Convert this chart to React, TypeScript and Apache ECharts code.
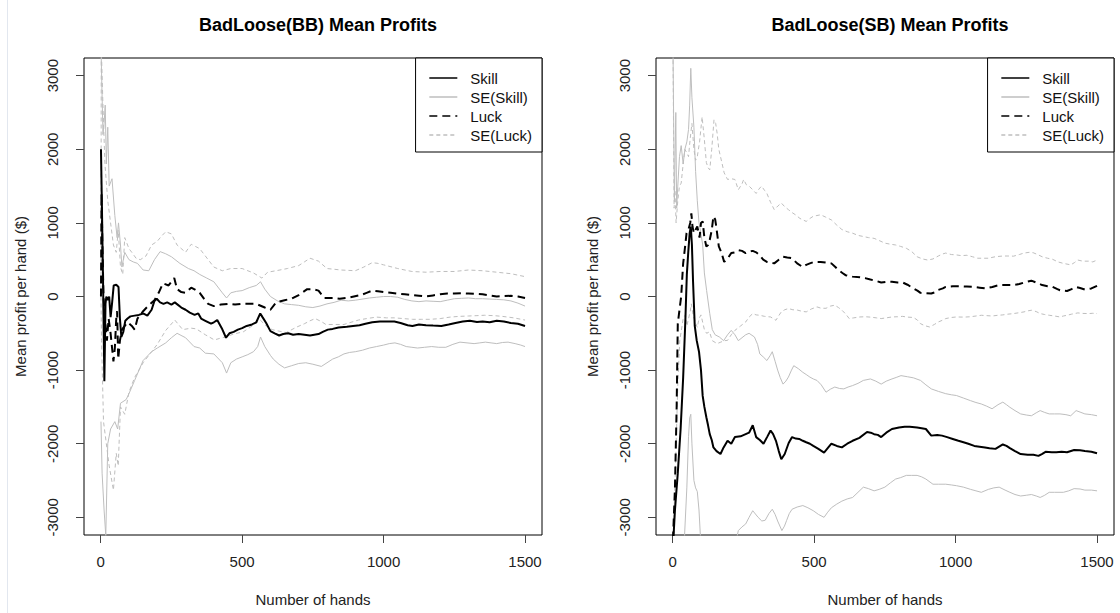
import React, { useEffect, useRef } from "react";
import * as echarts from "echarts";

const FONT = '"Liberation Sans", Arial, Helvetica, sans-serif';

const legendNames = ["Skill", "SE(Skill)", "Luck", "SE(Luck)"];
const titles = ["BadLoose(BB) Mean Profits", "BadLoose(SB) Mean Profits"];
const xTicks = [0, 500, 1000, 1500];
const yTicks = [-3000, -2000, -1000, 0, 1000, 2000, 3000];
const xLabel = "Number of hands";
const yLabel = "Mean profit per hand ($)";

// ---- BB panel: [hand, mean profit] ----
const bbSkill = [[1,2000],[4,1300],[8,300],[13,-1150],[17,-100],[20,0],[25,-50],[30,0],[35,-280],[40,-100],[46,150],[55,160],[63,130],[68,-300],[73,-550],[80,-480],[87,-330],[95,-300],[105,-270],[120,-260],[135,-250],[150,-230],[165,-260],[180,-180],[190,-60],[198,-30],[210,-80],[222,-100],[235,-80],[250,-110],[262,-80],[272,-110],[285,-150],[300,-180],[315,-220],[332,-250],[345,-230],[355,-300],[370,-330],[390,-370],[400,-350],[412,-320],[428,-430],[443,-560],[455,-500],[470,-480],[485,-450],[500,-430],[516,-400],[535,-380],[550,-350],[564,-230],[572,-280],[585,-360],[600,-470],[615,-500],[631,-530],[645,-510],[663,-500],[680,-520],[700,-510],[720,-520],[740,-530],[755,-520],[770,-510],[785,-480],[803,-450],[820,-440],[841,-420],[870,-410],[892,-400],[915,-390],[936,-370],[960,-350],[987,-340],[1010,-340],[1038,-340],[1060,-360],[1085,-390],[1102,-400],[1125,-380],[1150,-390],[1175,-395],[1204,-400],[1230,-380],[1254,-360],[1280,-340],[1305,-330],[1330,-345],[1350,-340],[1375,-350],[1400,-330],[1425,-340],[1450,-360],[1475,-370],[1500,-400]];
const bbLuck = [[1,0],[3,1400],[6,700],[10,0],[15,-300],[22,-600],[28,-300],[35,-500],[45,-880],[50,-700],[55,-300],[58,-200],[62,-850],[68,-600],[75,-450],[85,-400],[95,-350],[110,-400],[120,-450],[130,-300],[150,-200],[170,-120],[190,-50],[205,50],[220,180],[240,150],[260,250],[270,100],[285,60],[300,50],[320,120],[335,90],[350,50],[365,-30],[380,-100],[400,-130],[425,-110],[450,-100],[475,-110],[500,-100],[525,-100],[550,-100],[580,-150],[600,-180],[620,-80],[650,-50],[675,-30],[700,20],[715,60],[730,100],[750,100],[770,80],[790,-20],[820,-20],[845,-30],[870,-20],[895,0],[920,20],[940,50],[960,80],[980,70],[1000,60],[1025,50],[1050,40],[1075,30],[1100,20],[1125,10],[1150,0],[1175,15],[1200,30],[1225,40],[1250,40],[1275,45],[1300,40],[1325,35],[1350,30],[1375,15],[1400,0],[1425,5],[1450,10],[1475,0],[1500,-20]];
const bbSkillSeUpper = [[1,3400],[3,3400],[8,2200],[12,2350],[16,2600],[20,1800],[25,2300],[30,1500],[40,1600],[50,1100],[58,800],[63,1000],[70,700],[75,400],[85,600],[100,500],[115,470],[130,450],[150,360],[170,350],[190,500],[210,610],[230,580],[250,540],[280,450],[310,380],[330,350],[350,300],[375,250],[400,200],[430,50],[445,-20],[460,50],[480,70],[500,80],[525,120],[550,150],[565,200],[580,100],[600,0],[625,-60],[650,-100],[675,-110],[700,-120],[725,-140],[750,-150],[775,-130],[800,-100],[825,-80],[850,-50],[875,-60],[900,-50],[950,-20],[975,-10],[1000,0],[1025,0],[1050,-10],[1075,-40],[1100,-60],[1125,-70],[1150,-60],[1175,-65],[1200,-70],[1225,-50],[1250,-30],[1275,-25],[1300,-20],[1325,-30],[1350,-30],[1375,-35],[1400,-40],[1425,-45],[1450,-60],[1475,-90],[1500,-130]];
const bbSkillSeLower = [[1,-1700],[5,-2400],[12,-2900],[18,-3250],[25,-2000],[35,-1800],[50,-1700],[60,-1800],[70,-1450],[90,-1400],[100,-1320],[120,-1140],[150,-870],[180,-750],[200,-700],[230,-630],[250,-560],[270,-500],[300,-560],[330,-680],[350,-700],[370,-770],[400,-780],[430,-900],[445,-1040],[460,-900],[480,-850],[500,-820],[520,-790],[540,-750],[555,-680],[565,-550],[580,-680],[600,-800],[610,-850],[630,-920],[650,-970],[675,-940],[700,-910],[725,-900],[750,-920],[780,-950],[800,-900],[820,-850],[840,-820],[860,-780],[880,-760],[900,-750],[925,-730],[950,-700],[975,-680],[1000,-660],[1020,-640],[1040,-630],[1060,-650],[1080,-680],[1100,-690],[1120,-700],[1145,-690],[1170,-680],[1195,-690],[1220,-690],[1245,-650],[1270,-620],[1295,-630],[1320,-640],[1340,-630],[1360,-620],[1380,-630],[1400,-640],[1420,-625],[1440,-620],[1465,-640],[1485,-660],[1500,-680]];
const bbLuckSeUpper = [[1,0],[2,3400],[8,2600],[15,1800],[25,1300],[35,1000],[45,700],[55,600],[62,900],[70,400],[78,300],[85,800],[100,650],[110,600],[125,520],[140,500],[160,550],[180,700],[200,750],[215,820],[230,880],[250,850],[270,700],[300,600],[320,710],[335,680],[350,650],[380,500],[400,400],[430,350],[460,380],[500,380],[540,320],[570,250],[590,330],[620,350],[660,380],[700,420],[720,470],[740,520],[770,480],[800,380],[825,370],[850,360],[875,355],[900,350],[930,400],[960,460],[980,450],[1000,430],[1050,380],[1100,340],[1150,330],[1200,340],[1250,340],[1300,360],[1350,350],[1400,330],[1450,310],[1500,270]];
const bbLuckSeLower = [[1,0],[3,-600],[10,-1700],[20,-2000],[30,-2300],[45,-2630],[55,-2130],[62,-2300],[70,-1500],[85,-1600],[100,-1300],[120,-1100],[150,-900],[180,-750],[200,-650],[230,-460],[262,-320],[290,-450],[320,-430],[338,-440],[370,-520],[402,-590],[420,-570],[440,-550],[470,-510],[504,-480],[535,-400],[564,-320],[585,-400],[606,-450],[630,-470],[656,-490],[690,-420],[720,-370],[740,-330],[758,-300],[780,-340],[796,-380],[830,-380],[860,-380],[885,-350],[911,-320],[940,-300],[975,-280],[1010,-290],[1038,-290],[1070,-300],[1102,-310],[1135,-310],[1165,-310],[1200,-300],[1235,-280],[1267,-270],[1300,-265],[1330,-260],[1356,-255],[1390,-260],[1420,-270],[1460,-290],[1500,-320]];

// ---- SB panel: [hand, mean profit] ----
const sbSkill = [[1,-3400],[8,-2900],[18,-2400],[28,-1800],[37,-1100],[45,-300],[50,300],[55,600],[60,860],[64,950],[68,700],[72,200],[78,-400],[85,-600],[93,-750],[100,-1000],[106,-1350],[112,-1500],[119,-1640],[125,-1750],[131,-1870],[138,-1950],[144,-2050],[155,-2100],[169,-2140],[180,-2050],[194,-1960],[207,-2000],[220,-1910],[240,-1900],[258,-1870],[270,-1850],[283,-1750],[295,-1910],[308,-1950],[321,-2000],[335,-1900],[346,-1820],[355,-1870],[365,-1960],[375,-2100],[384,-2210],[396,-2140],[410,-1990],[422,-1910],[435,-1930],[447,-1935],[460,-1960],[472,-1980],[485,-2000],[497,-2030],[515,-2070],[535,-2120],[548,-2060],[561,-2000],[580,-2030],[598,-2050],[617,-2000],[636,-1960],[660,-1920],[687,-1840],[700,-1850],[712,-1870],[725,-1880],[737,-1910],[755,-1850],[775,-1800],[800,-1780],[820,-1770],[838,-1770],[864,-1780],[880,-1790],[895,-1800],[914,-1890],[935,-1880],[952,-1890],[970,-1910],[990,-1935],[1010,-1960],[1028,-1980],[1045,-2000],[1066,-2030],[1085,-2040],[1104,-2050],[1120,-2060],[1141,-2070],[1167,-2010],[1180,-2030],[1192,-2060],[1210,-2100],[1230,-2140],[1255,-2150],[1275,-2150],[1293,-2165],[1305,-2140],[1318,-2110],[1340,-2115],[1356,-2115],[1375,-2110],[1394,-2115],[1419,-2085],[1440,-2090],[1457,-2100],[1480,-2110],[1500,-2130]];
const sbLuck = [[1,-3300],[8,-2600],[14,-1500],[18,-370],[25,-150],[30,0],[37,450],[43,650],[49,860],[55,900],[62,1000],[66,1130],[70,950],[75,860],[80,900],[87,950],[95,800],[100,1000],[106,1020],[112,800],[119,680],[125,700],[131,770],[138,900],[144,1090],[150,1050],[154,950],[163,680],[172,600],[182,470],[195,520],[207,590],[220,600],[232,630],[245,620],[258,590],[270,610],[283,620],[295,600],[308,560],[320,500],[333,470],[346,460],[359,450],[375,500],[390,540],[405,530],[422,520],[440,450],[460,400],[472,430],[485,450],[500,470],[523,470],[545,460],[561,450],[575,400],[586,360],[600,320],[611,290],[635,270],[662,260],[680,250],[699,230],[720,210],[737,190],[755,200],[775,200],[795,190],[813,190],[830,160],[851,110],[865,80],[876,50],[895,45],[914,40],[930,60],[939,90],[955,110],[965,130],[990,140],[1015,140],[1040,135],[1066,130],[1085,120],[1104,110],[1130,130],[1154,155],[1180,155],[1205,155],[1225,170],[1242,190],[1268,215],[1285,190],[1306,155],[1325,140],[1343,130],[1360,100],[1369,85],[1394,75],[1410,100],[1426,130],[1440,115],[1457,95],[1480,110],[1500,145]];
const sbSkillSeUpper = [[1,3400],[3,3400],[6,1300],[8,1800],[11,2500],[14,1200],[18,1500],[24,1900],[30,2050],[37,1800],[43,2000],[50,2100],[56,2270],[60,2600],[64,3100],[68,2700],[75,2300],[81,1700],[87,1300],[93,1000],[100,850],[106,700],[112,320],[120,80],[131,-230],[140,-450],[150,-520],[165,-550],[180,-600],[194,-520],[207,-460],[220,-520],[232,-600],[245,-560],[258,-520],[270,-500],[289,-550],[300,-650],[308,-780],[320,-820],[333,-870],[345,-800],[352,-750],[362,-880],[371,-1000],[380,-1100],[390,-1190],[400,-1150],[409,-1095],[420,-1000],[428,-940],[444,-980],[460,-1030],[472,-1060],[485,-1095],[497,-1120],[510,-1140],[525,-1200],[542,-1300],[557,-1260],[573,-1230],[590,-1250],[605,-1255],[620,-1230],[636,-1210],[655,-1180],[674,-1140],[699,-1120],[718,-1150],[737,-1190],[755,-1150],[775,-1120],[790,-1100],[807,-1075],[830,-1090],[851,-1105],[876,-1140],[895,-1200],[914,-1255],[940,-1290],[965,-1320],[985,-1335],[1003,-1345],[1028,-1380],[1053,-1415],[1072,-1440],[1091,-1460],[1110,-1490],[1129,-1525],[1150,-1470],[1167,-1435],[1180,-1470],[1192,-1505],[1210,-1550],[1230,-1595],[1250,-1610],[1268,-1620],[1285,-1580],[1299,-1550],[1315,-1575],[1331,-1595],[1350,-1595],[1369,-1595],[1390,-1605],[1407,-1620],[1426,-1550],[1440,-1570],[1457,-1595],[1480,-1605],[1500,-1620]];
const sbSkillSeLower = [[1,-3400],[3,-3400],[20,-3400],[40,-3400],[50,-2600],[56,-1900],[60,-1650],[64,-1600],[68,-2000],[75,-2500],[81,-2600],[87,-2650],[93,-2900],[100,-3400],[220,-3400],[232,-3180],[245,-3130],[258,-3090],[270,-3000],[283,-2910],[302,-3000],[315,-3050],[327,-3040],[340,-2950],[352,-2890],[362,-2960],[371,-3050],[386,-3180],[395,-3120],[403,-3040],[412,-2950],[422,-2890],[440,-2860],[460,-2840],[478,-2870],[497,-2910],[515,-2960],[535,-3000],[548,-2930],[561,-2870],[580,-2820],[598,-2780],[617,-2750],[636,-2730],[655,-2660],[674,-2590],[692,-2610],[712,-2640],[730,-2620],[750,-2590],[770,-2530],[788,-2480],[806,-2460],[826,-2430],[845,-2430],[864,-2430],[880,-2450],[895,-2480],[920,-2550],[940,-2550],[965,-2550],[985,-2560],[1003,-2570],[1028,-2590],[1053,-2620],[1072,-2640],[1091,-2660],[1116,-2620],[1135,-2600],[1154,-2590],[1175,-2630],[1192,-2660],[1210,-2690],[1230,-2710],[1250,-2700],[1268,-2690],[1285,-2710],[1299,-2730],[1315,-2700],[1331,-2660],[1350,-2660],[1381,-2660],[1400,-2640],[1419,-2610],[1440,-2615],[1457,-2630],[1480,-2630],[1500,-2640]];
const sbLuckSeUpper = [[1,3400],[5,1200],[8,1450],[12,1000],[18,1300],[24,1500],[30,1540],[37,1800],[43,2000],[50,1950],[56,1900],[62,2150],[68,2350],[75,2000],[81,1850],[87,1900],[95,2100],[104,2440],[112,2130],[119,1820],[125,1750],[131,1720],[138,2000],[146,2400],[152,2350],[157,2220],[163,2000],[169,1900],[182,1680],[194,1590],[207,1600],[220,1590],[232,1450],[245,1530],[251,1590],[260,1520],[270,1500],[283,1450],[295,1400],[305,1460],[314,1500],[325,1440],[333,1400],[346,1280],[359,1180],[372,1230],[384,1270],[396,1220],[409,1180],[422,1140],[434,1110],[450,1060],[472,1020],[485,1060],[497,1090],[510,1100],[523,1110],[540,1080],[561,1040],[580,970],[598,910],[617,880],[636,860],[655,830],[674,815],[692,800],[712,790],[730,760],[750,725],[770,710],[788,700],[806,680],[826,655],[845,610],[864,540],[883,510],[902,495],[920,510],[939,550],[952,575],[965,590],[985,570],[1003,565],[1020,555],[1040,560],[1060,540],[1078,520],[1098,520],[1116,520],[1140,540],[1167,550],[1185,550],[1205,548],[1225,570],[1242,590],[1260,600],[1274,595],[1290,570],[1306,540],[1325,520],[1343,505],[1362,470],[1381,450],[1394,440],[1407,430],[1420,460],[1432,495],[1450,480],[1470,480],[1485,470],[1500,495]];
const sbLuckSeLower = [[1,-3400],[10,-2300],[18,-1200],[25,-600],[37,-300],[45,-250],[50,-400],[56,-300],[62,-200],[66,-100],[72,-250],[80,-350],[87,-420],[93,-300],[100,-250],[106,-350],[112,-450],[120,-500],[130,-480],[140,-600],[157,-640],[170,-620],[182,-600],[194,-596],[207,-520],[220,-460],[240,-400],[258,-346],[270,-280],[283,-232],[295,-250],[308,-255],[325,-270],[346,-278],[365,-323],[375,-260],[384,-209],[396,-180],[409,-164],[425,-180],[441,-185],[456,-200],[472,-209],[490,-170],[510,-141],[525,-160],[542,-160],[558,-130],[573,-118],[586,-150],[598,-185],[612,-240],[624,-300],[640,-290],[662,-278],[680,-275],[699,-280],[720,-290],[737,-300],[755,-290],[775,-278],[795,-275],[813,-270],[830,-280],[851,-285],[865,-320],[876,-369],[890,-395],[908,-414],[925,-380],[939,-346],[955,-320],[965,-300],[985,-285],[1003,-278],[1030,-280],[1053,-275],[1072,-265],[1091,-255],[1110,-260],[1129,-265],[1150,-255],[1167,-250],[1185,-240],[1205,-232],[1225,-220],[1242,-209],[1255,-195],[1268,-187],[1285,-205],[1299,-232],[1315,-245],[1331,-255],[1350,-265],[1369,-278],[1381,-265],[1394,-255],[1410,-240],[1432,-223],[1450,-230],[1470,-232],[1485,-228],[1500,-232]];

const panels = [
  { skill: bbSkill, luck: bbLuck, skU: bbSkillSeUpper, skL: bbSkillSeLower, lkU: bbLuckSeUpper, lkL: bbLuckSeLower },
  { skill: sbSkill, luck: sbLuck, skU: sbSkillSeUpper, skL: sbSkillSeLower, lkU: sbLuckSeUpper, lkL: sbLuckSeLower },
];

const GREY = "#bebebe";

function lineSeries(name: string, data: number[][], idx: number, color: string, width: number, dash: any, z: number) {
  return {
    type: "line",
    name,
    data,
    xAxisIndex: idx,
    yAxisIndex: idx,
    symbol: "none",
    showSymbol: false,
    clip: true,
    z,
    lineStyle: { color, width, type: dash },
    itemStyle: { color },
    emphasis: { disabled: true },
  };
}

export default function App() {
  const ref = useRef<HTMLDivElement>(null);
  useEffect(() => {
    if (!ref.current) return;
    const chart = echarts.init(ref.current, null, { renderer: "svg" });
    const gridLefts = [84, 656];
    const gridW = 458;
    const series: any[] = [];
    panels.forEach((p, i) => {
      series.push(lineSeries("SE(Skill)", p.skU, i, GREY, 1, "solid", 2));
      series.push(lineSeries("SE(Skill)", p.skL, i, GREY, 1, "solid", 2));
      series.push(lineSeries("SE(Luck)", p.lkU, i, GREY, 1, [4, 3], 2));
      series.push(lineSeries("SE(Luck)", p.lkL, i, GREY, 1, [4, 3], 2));
      series.push(lineSeries("Luck", p.luck, i, "#000", 2, [8, 5], 3));
      series.push(lineSeries("Skill", p.skill, i, "#000", 2, "solid", 4));
    });
    const axisFont = { fontFamily: FONT, fontSize: 15, color: "#222" };
    const option: any = {
      animation: false,
      backgroundColor: "#fff",
      textStyle: { fontFamily: FONT },
      title: titles.map((t, i) => ({
        text: t,
        left: gridLefts[i] + gridW / 2,
        top: 11,
        textAlign: "center",
        textStyle: { fontFamily: FONT, fontSize: 18, fontWeight: "bold", color: "#000" },
      })),
      grid: gridLefts.map((l) => ({
        left: l,
        top: 58,
        width: gridW,
        height: 477,
        show: true,
        borderColor: "#000",
        borderWidth: 1,
        backgroundColor: "transparent",
        containLabel: false,
        outerBoundsMode: "none",
      })),
      xAxis: gridLefts.map((_, i) => ({
        type: "value",
        gridIndex: i,
        position: "bottom",
        min: -59,
        max: 1560,
        name: xLabel,
        nameLocation: "middle",
        nameGap: 57,
        nameTextStyle: { ...axisFont, color: "#222" },
        axisLine: { show: false, onZero: false },
        splitLine: { show: false },
        axisTick: { show: true, length: 8, inside: false, customValues: xTicks, lineStyle: { color: "#444", width: 1 } },
        axisLabel: { ...axisFont, margin: 19, customValues: xTicks, formatter: (v: number) => String(v) },
      })),
      yAxis: gridLefts.map((_, i) => ({
        type: "value",
        gridIndex: i,
        position: "left",
        min: -3240,
        max: 3240,
        name: yLabel,
        nameLocation: "middle",
        nameGap: 56,
        nameTextStyle: { ...axisFont, color: "#222" },
        axisLine: { show: false, onZero: false },
        splitLine: { show: false },
        axisTick: { show: true, length: 8, inside: false, customValues: yTicks, lineStyle: { color: "#444", width: 1 } },
        axisLabel: { ...axisFont, rotate: 90, margin: 24, customValues: yTicks, formatter: (v: number) => String(v) },
      })),
      legend: gridLefts.map((l) => ({
        data: legendNames,
        orient: "vertical",
        right: 1120 - (l + gridW),
        top: 58,
        backgroundColor: "#fff",
        borderColor: "#000",
        borderWidth: 1,
        borderRadius: 0,
        padding: [12, 10, 9, 13],
        itemWidth: 28,
        itemHeight: 14,
        itemGap: 3,
        selectedMode: false,
        itemStyle: { opacity: 0 },
        lineStyle: { width: 1.5 },
        textStyle: { fontFamily: FONT, fontSize: 15, color: "#111", padding: [0, 0, 0, 8], lineHeight: 16 },
      })),
      graphic: [
        { type: "line", shape: { x1: 7.5, y1: 0, x2: 7.5, y2: 613 }, style: { stroke: "#e2e7ef", lineWidth: 1 }, silent: true },
      ],
      series,
    };
    chart.setOption(option);
    return () => chart.dispose();
  }, []);
  return <div ref={ref} style={{ position: "fixed", left: 0, top: 0, width: 1120, height: 613 }} />;
}
